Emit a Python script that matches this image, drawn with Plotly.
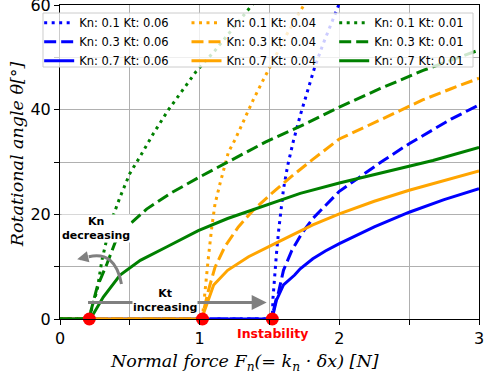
import plotly.graph_objects as go

# instability onset (normal force where rotation starts) per Kt
kt_labels = ["0.06", "0.04", "0.01"]
kn_labels = ["0.1", "0.3", "0.7"]
f_onset = [1.52, 1.02, 0.21]

# --- Kt 0.06 (blue) ---
f_kt006_kn01 = [0, 1.52, 1.525, 1.535, 1.55, 1.565, 1.58, 1.60, 1.63, 1.67, 1.72, 1.77, 1.82, 1.88, 1.94, 2.00]
t_kt006_kn01 = [0, 0, 4.0, 8.0, 12.5, 16.8, 20.5, 24.8, 29.3, 33.9, 38.9, 43.6, 47.8, 52.3, 56.4, 60.3]
f_kt006_kn03 = [0, 1.52, 1.527, 1.545, 1.563, 1.60, 1.66, 1.73, 1.81, 1.90, 2.0, 2.15, 2.31, 2.5, 2.62, 2.8, 3.0]
t_kt006_kn03 = [0, 0, 1.4, 3.5, 4.9, 9.3, 13.1, 16.3, 19.2, 21.6, 24.4, 27.2, 30.2, 33.5, 35.4, 38.2, 40.9]
f_kt006_kn07 = [0, 1.52, 1.527, 1.55, 1.6, 1.68, 1.72, 1.81, 1.9, 2.0, 2.25, 2.5, 2.75, 3.0]
t_kt006_kn07 = [0, 0, 1.0, 3.6, 6.5, 8.4, 9.6, 11.5, 13.0, 14.4, 17.6, 20.4, 22.8, 24.9]

# --- Kt 0.04 (orange) ---
f_kt004_kn01 = [0, 1.02, 1.025, 1.04, 1.063, 1.087, 1.11, 1.146, 1.18, 1.206, 1.254, 1.325, 1.384, 1.444, 1.50, 1.56, 1.63, 1.70, 1.76]
t_kt004_kn01 = [0, 0, 1.7, 6.1, 11.9, 17.6, 22.0, 25.9, 29.4, 31.9, 34.3, 38.6, 41.9, 45.1, 48.0, 51.3, 54.7, 57.9, 60.6]
f_kt004_kn03 = [0, 1.02, 1.027, 1.063, 1.11, 1.18, 1.277, 1.384, 1.516, 1.66, 1.81, 2.0, 2.29, 2.5, 2.6, 2.8, 3.0]
t_kt004_kn03 = [0, 0, 1.4, 5.5, 9.9, 13.8, 17.6, 20.8, 24.0, 27.3, 30.5, 34.4, 38.0, 40.6, 41.9, 44.0, 46.0]
f_kt004_kn07 = [0, 1.02, 1.027, 1.063, 1.10, 1.20, 1.35, 1.56, 1.72, 1.81, 2.0, 2.25, 2.5, 2.75, 3.0]
t_kt004_kn07 = [0, 0, 1.0, 3.6, 6.5, 9.3, 11.9, 14.7, 16.9, 18.0, 20.1, 22.5, 24.6, 26.5, 28.3]

# --- Kt 0.01 (green) ---
f_kt001_kn01 = [0, 0.21, 0.23, 0.266, 0.30, 0.36, 0.43, 0.50, 0.57, 0.67, 0.777, 0.896, 0.975, 1.11, 1.25, 1.325, 1.39]
t_kt001_kn01 = [0, 0, 2.3, 5.5, 11.2, 18.2, 23.3, 27.8, 30.9, 35.5, 40.0, 44.4, 47.3, 51.3, 55.8, 58.3, 60.5]
f_kt001_kn03 = [0, 0.21, 0.22, 0.266, 0.337, 0.396, 0.504, 0.62, 0.79, 0.99, 1.23, 1.47, 1.75, 2.0, 2.29, 2.6, 3.0]
t_kt001_kn03 = [0, 0, 1.4, 6.1, 10.6, 14.7, 18.2, 21.0, 24.0, 27.0, 30.4, 33.8, 37.2, 40.5, 44.0, 47.5, 51.4]
f_kt001_kn07 = [0, 0.21, 0.24, 0.31, 0.43, 0.575, 0.766, 0.99, 1.2, 1.44, 1.72, 2.0, 2.43, 2.67, 3.0]
t_kt001_kn07 = [0, 0, 1.0, 4.2, 8.4, 11.2, 13.8, 16.9, 19.2, 21.4, 24.0, 26.0, 28.7, 30.3, 32.8]

series = [
    [(f_kt006_kn01, t_kt006_kn01), (f_kt006_kn03, t_kt006_kn03), (f_kt006_kn07, t_kt006_kn07)],
    [(f_kt004_kn01, t_kt004_kn01), (f_kt004_kn03, t_kt004_kn03), (f_kt004_kn07, t_kt004_kn07)],
    [(f_kt001_kn01, t_kt001_kn01), (f_kt001_kn03, t_kt001_kn03), (f_kt001_kn07, t_kt001_kn07)],
]

colors = ["#0000ff", "#ffa500", "#008000"]
dashes = ["3px,4.5px", "12px,5px", "solid"]
legend_names = ["legend", "legend2", "legend3"]

fig = go.Figure()
for i, kt in enumerate(kt_labels):
    for j, kn in enumerate(kn_labels):
        fx, ty = series[i][j]
        fig.add_trace(go.Scatter(
            x=fx, y=ty, mode="lines",
            name=f"Kn: {kn} Kt: {kt}",
            line=dict(color=colors[i], width=3, dash=dashes[j]),
            legend=legend_names[i],
        ))

fig.add_trace(go.Scatter(
    x=f_onset, y=[0, 0, 0], mode="markers",
    marker=dict(color="#ff0000", size=13),
    cliponaxis=False, showlegend=False,
))

font_main = "DejaVu Sans"
leg_common = dict(xanchor="left", yanchor="top", y=0.99, bgcolor="rgba(0,0,0,0)",
                  borderwidth=0, font=dict(family=font_main, size=11.5, color="black"),
                  tracegroupgap=0)

# legend background box
fig.add_shape(type="rect", xref="paper", yref="paper", x0=-0.0406, x1=0.9857,
              y0=0.8025, y1=0.9745, layer="above",
              fillcolor="rgba(255,255,255,0.8)", line=dict(color="#cccccc", width=1))

# curved "Kn decreasing" arrow
fig.add_shape(type="path", xref="x", yref="y", layer="above",
              path="M 0.44,6.7 Q 0.396,13.1 0.206,11.9",
              line=dict(color="#808080", width=3))

title_font = dict(family="DejaVu Serif", size=17.5, color="black")
annotations = [
    dict(x=0.123, y=11.4, ax=0.206, ay=11.9, axref="x", ayref="y", xref="x", yref="y",
         text="", showarrow=True, arrowhead=2, arrowsize=0.75, arrowwidth=3,
         arrowcolor="#808080"),
    dict(x=1.48, y=3.15, ax=0.19, ay=3.15, axref="x", ayref="y", xref="x", yref="y",
         text="", showarrow=True, arrowhead=2, arrowsize=1, arrowwidth=3,
         arrowcolor="#808080"),
    dict(x=0.261, y=17.3, xref="x", yref="y", text="<b>Kn</b><br><b>decreasing</b>",
         showarrow=False, bgcolor="white", borderpad=0,
         font=dict(family=font_main, size=11, color="black")),
    dict(x=0.754, y=3.6, xref="x", yref="y", text="<b>Kt</b><br><b>increasing</b>",
         showarrow=False, bgcolor="white", borderpad=0,
         font=dict(family=font_main, size=11, color="black")),
    dict(x=1.52, y=-0.046, xref="x", yref="paper", xanchor="center", yanchor="middle",
         text="<b>Instability</b>", showarrow=False,
         font=dict(family=font_main, size=12.5, color="#ff0000")),
    # axis titles
    dict(x=0.4415, y=-0.137, xref="paper", yref="paper", xanchor="center", yanchor="middle",
         showarrow=False,
         text="<i>Normal force F<sub>n</sub>(= k<sub>n</sub> · δx) [N]</i>", font=title_font),
    dict(x=-0.1026, y=0.525, xref="paper", yref="paper", xanchor="center", yanchor="middle",
         showarrow=False, textangle=-90,
         text="<i>Rotational angle θ[°]</i>", font=title_font),
]

x_ticks = [0, 0.5, 1, 1.5, 2, 2.5, 3]
x_ticktext = ["0", "", "1", "", "2", "", "3"]
y_ticks = [0, 10, 20, 30, 40, 50, 60]
y_ticktext = ["0", "", "20", "", "40", "", "60"]

axis_common = dict(
    automargin=False, showgrid=True, gridcolor="#b0b0b0", gridwidth=1, zeroline=False,
    showline=True, linecolor="black", linewidth=1, mirror=True,
    ticks="outside", ticklen=5, tickcolor="black", tickfont=dict(size=16),
    ticklabeloverflow="allow",
)

fig.update_layout(
    width=484, height=376,
    margin=dict(l=60, r=5, t=5, b=57, autoexpand=False),
    plot_bgcolor="white", paper_bgcolor="white",
    font=dict(family=font_main, size=16, color="black"),
    annotations=annotations,
    legend=dict(x=-0.0497, **leg_common),
    legend2=dict(x=0.3019, **leg_common),
    legend3=dict(x=0.6544, **leg_common),
    xaxis=dict(range=[0, 3], tickvals=x_ticks, ticktext=x_ticktext, **axis_common),
    yaxis=dict(range=[0, 60], tickvals=y_ticks, ticktext=y_ticktext, **axis_common),
)

# page body has a default 8px margin; remove it so the figure sits at the window origin
fig.write_html("out.html", config={"displayModeBar": False},
               post_script="document.body.style.margin='0';document.body.style.overflow='hidden';")
